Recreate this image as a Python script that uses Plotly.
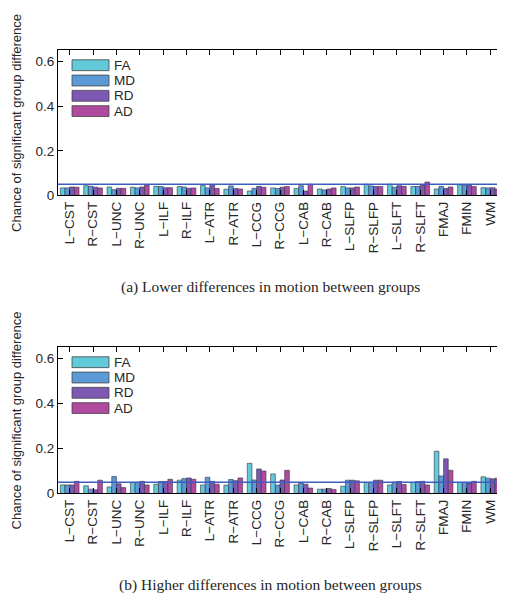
import plotly.graph_objects as go

categories = ["L−CST", "R−CST", "L−UNC", "R−UNC", "L−ILF", "R−ILF", "L−ATR", "R−ATR",
              "L−CCG", "R−CCG", "L−CAB", "R−CAB", "L−SLFP", "R−SLFP", "L−SLFT", "R−SLFT",
              "FMAJ", "FMIN", "WM"]
measures = ["FA", "MD", "RD", "AD"]

# (a) Lower differences in motion between groups
low_FA = [0.034, 0.044, 0.038, 0.037, 0.041, 0.040, 0.045, 0.028, 0.020, 0.034, 0.031, 0.029, 0.040, 0.050, 0.050, 0.040, 0.029, 0.048, 0.035]
low_MD = [0.034, 0.041, 0.026, 0.034, 0.040, 0.038, 0.034, 0.043, 0.032, 0.031, 0.044, 0.025, 0.034, 0.043, 0.037, 0.040, 0.041, 0.048, 0.034]
low_RD = [0.038, 0.037, 0.032, 0.038, 0.035, 0.032, 0.048, 0.031, 0.041, 0.037, 0.020, 0.029, 0.034, 0.040, 0.044, 0.048, 0.031, 0.048, 0.035]
low_AD = [0.037, 0.034, 0.032, 0.048, 0.035, 0.034, 0.031, 0.029, 0.037, 0.040, 0.050, 0.034, 0.038, 0.040, 0.041, 0.060, 0.038, 0.040, 0.029]

# (b) Higher differences in motion between groups
high_FA = [0.038, 0.034, 0.029, 0.049, 0.041, 0.059, 0.038, 0.037, 0.134, 0.087, 0.038, 0.019, 0.032, 0.049, 0.038, 0.049, 0.188, 0.049, 0.074]
high_MD = [0.038, 0.019, 0.075, 0.049, 0.053, 0.066, 0.072, 0.062, 0.060, 0.037, 0.046, 0.019, 0.059, 0.049, 0.050, 0.053, 0.078, 0.049, 0.068]
high_RD = [0.038, 0.016, 0.043, 0.054, 0.053, 0.069, 0.054, 0.057, 0.109, 0.060, 0.041, 0.022, 0.059, 0.059, 0.053, 0.054, 0.154, 0.046, 0.065]
high_AD = [0.054, 0.059, 0.026, 0.038, 0.063, 0.063, 0.041, 0.069, 0.100, 0.103, 0.024, 0.018, 0.056, 0.059, 0.040, 0.038, 0.103, 0.054, 0.068]

threshold = 0.05
y_ticks = [0, 0.2, 0.4, 0.6]
y_tick_labels = ["0", "0.2", "0.4", "0.6"]
captions = ["(a) Lower differences in motion between groups",
            "(b) Higher differences in motion between groups"]
y_title = "Chance of significant group difference"

colors = ["#62CAD8", "#5B9AD6", "#7C58B2", "#B04A9E"]
W, H = 505, 600
SANS = "Liberation Sans"
TXT = "#262626"

fig = go.Figure()

panels = [
    (["x", "y"], [low_FA, low_MD, low_RD, low_AD]),
    (["x2", "y2"], [high_FA, high_MD, high_RD, high_AD]),
]
for (xa, ya), series in panels:
    for name, vals, col in zip(measures, series, colors):
        fig.add_trace(go.Bar(x=categories, y=vals, name=name, xaxis=xa, yaxis=ya,
                             marker=dict(color=col, line=dict(color="#333344", width=0.6)),
                             showlegend=False))
    fig.add_shape(type="line", xref=f"{xa} domain", yref=ya, x0=0, x1=1,
                  y0=threshold, y1=threshold, line=dict(color="#3D5EC0", width=1.6))

def px_x(p):
    return p / W

def px_y(p):
    return 1 - p / H

axis_common = dict(showline=True, linecolor="black", linewidth=1, mirror="ticks",
                   ticks="inside", ticklen=5, tickcolor="black",
                   tickfont=dict(family=SANS, size=13.5, color=TXT),
                   showgrid=False, zeroline=False)

title_font = dict(family=SANS, size=13, color=TXT)
xdom = [px_x(50), px_x(494)]
fig.update_layout(
    width=W, height=H, margin=dict(l=0, r=0, t=0, b=0),
    plot_bgcolor="white", paper_bgcolor="white",
    barmode="group", bargap=0.2, bargroupgap=0.0,
    xaxis=dict(domain=xdom, anchor="y", tickangle=-90, range=[-0.5, 18.5], **axis_common),
    yaxis=dict(domain=[px_y(190), px_y(43)], anchor="x", range=[0, 0.65],
               tickvals=y_ticks, ticktext=y_tick_labels,
               title=dict(text=y_title, font=title_font, standoff=10),
               **axis_common),
    xaxis2=dict(domain=xdom, anchor="y2", tickangle=-90, range=[-0.5, 18.5], **axis_common),
    yaxis2=dict(domain=[px_y(492), px_y(344)], anchor="x2", range=[0, 0.65],
                tickvals=y_ticks, ticktext=y_tick_labels,
                title=dict(text=y_title, font=title_font, standoff=10),
                **axis_common),
)

# custom legends (wide swatches like the original)
for top in (43, 344):
    for i, (name, col) in enumerate(zip(measures, colors)):
        cy = top + 15 + i * 15.5
        fig.add_shape(type="rect", xref="paper", yref="paper",
                      x0=px_x(64), x1=px_x(101), y0=px_y(cy + 5.5), y1=px_y(cy - 5.5),
                      fillcolor=col, line=dict(color="#444", width=0.8))
        fig.add_annotation(x=px_x(104), y=px_y(cy), xref="paper", yref="paper",
                           text=name, showarrow=False, xanchor="left", yanchor="middle",
                           font=dict(family=SANS, size=13.5, color=TXT))

for cap, cy in zip(captions, (283, 585)):
    fig.add_annotation(x=px_x(262), y=px_y(cy), xref="paper", yref="paper", text=cap,
                       showarrow=False, xanchor="center", yanchor="middle",
                       font=dict(family="Liberation Serif", size=15.5, color=TXT))

fig.write_html("out.html")
